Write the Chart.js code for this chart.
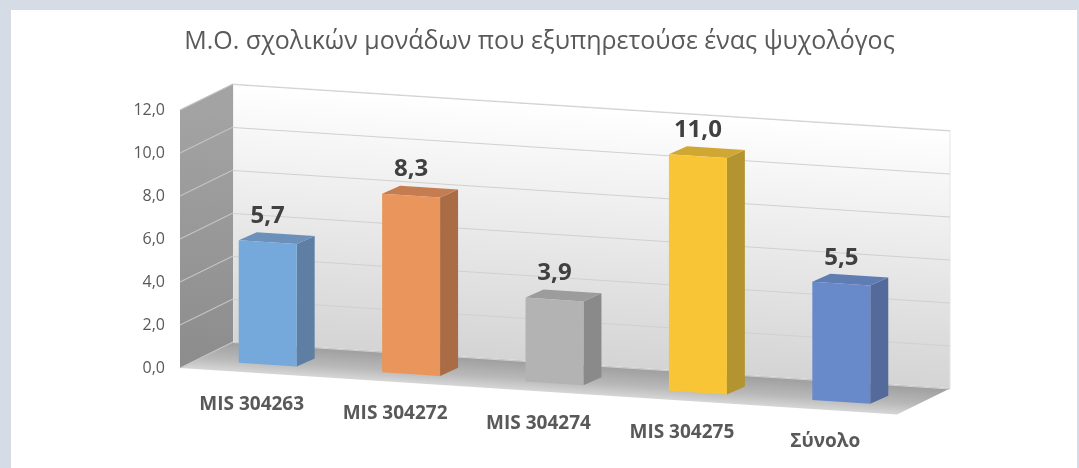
<!DOCTYPE html>
<html>
<head>
<meta charset="utf-8">
<script src="https://cdn.jsdelivr.net/npm/chart.js@4.4.0/dist/chart.umd.min.js"></script>
<style>
  html, body { margin: 0; padding: 0; background: #d6dce5; }
  canvas { display: block; }
</style>
</head>
<body>
<canvas id="myChart" width="1079" height="468"></canvas>
<script>
// data
const categories = ['MIS 304263', 'MIS 304272', 'MIS 304274', 'MIS 304275', 'Σύνολο'];
const values = [5.7, 8.3, 3.9, 11.0, 5.5];
const yMin = 0, yMax = 12, yStep = 2;
const chartTitle = 'Μ.Ο. σχολικών μονάδων που εξυπηρετούσε ένας ψυχολόγος';

// colours per bar: front, side, top
const frontColors = ['#75a9db', '#e9955b', '#b3b3b3', '#f7c535', '#6889ca'];
const sideColors = ['#5e7fa3', '#a96c45', '#8a8a8a', '#b39431', '#546a9b'];
const topColors = ['#6b90ba', '#c47c50', '#9c9c9c', '#d0a733', '#5f7db3'];

const FONT = '"Open Sans", "Noto Sans", sans-serif';
const SLOPE = 0.065;              // slope of the floor / gridlines
const DEPTH = { x: 53, y: -29.5 }; // floor depth (in skewed space)
const BAR_FRONT = { x: 16, y: -9 };
const BAR_DEPTH = { x: 18, y: -9.2 };

function fmt(v) {
    return v.toFixed(1).replace('.', ',');
}

// skew transform: everything in the plot leans down to the right
function skew(ctx, x0) {
    ctx.transform(1, SLOPE, 0, 1, 0, -SLOPE * x0);
}

function poly(ctx, pts, fill) {
    ctx.beginPath();
    ctx.moveTo(pts[0][0], pts[0][1]);
    for (let i = 1; i < pts.length; i++) ctx.lineTo(pts[i][0], pts[i][1]);
    ctx.closePath();
    ctx.fillStyle = fill;
    ctx.fill();
}

const framePlugin = {
    id: 'frame',
    beforeDraw(chart) {
        const ctx = chart.ctx;
        ctx.save();
        ctx.fillStyle = '#d6dce5';
        ctx.fillRect(0, 0, chart.width, chart.height);
        ctx.fillStyle = '#ffffff';
        ctx.fillRect(11, 10, 1066, chart.height - 10);
        ctx.restore();
    }
};

const box3dPlugin = {
    id: 'box3d',
    beforeDatasetsDraw(chart) {
        const ctx = chart.ctx;
        const area = chart.chartArea;
        const yScale = chart.scales.y;
        const x0 = area.left;
        const top = area.top, bottom = area.bottom;

        ctx.save();
        skew(ctx, x0);

        // back wall
        let g = ctx.createLinearGradient(0, top + DEPTH.y, 0, bottom + DEPTH.y);
        g.addColorStop(0, '#ffffff');
        g.addColorStop(1, '#d4d4d4');
        ctx.fillStyle = g;
        ctx.fillRect(x0 + DEPTH.x, top + DEPTH.y, area.right - x0, bottom - top);
        ctx.strokeStyle = '#e6e6e6';
        ctx.lineWidth = 1;
        ctx.strokeRect(x0 + DEPTH.x, top + DEPTH.y, area.right - x0, bottom - top);

        // left wall
        g = ctx.createLinearGradient(0, top, 0, bottom);
        g.addColorStop(0, '#a3a3a3');
        g.addColorStop(1, '#8c8c8c');
        poly(ctx, [[x0, bottom], [x0, top], [x0 + DEPTH.x, top + DEPTH.y], [x0 + DEPTH.x, bottom + DEPTH.y]], g);

        // floor
        g = ctx.createLinearGradient(0, bottom + DEPTH.y, 0, bottom);
        g.addColorStop(0, '#9e9e9e');
        g.addColorStop(0.6, '#b8b8b8');
        g.addColorStop(1, '#d6d6d6');
        poly(ctx, [[x0, bottom], [x0 + DEPTH.x, bottom + DEPTH.y], [area.right + DEPTH.x, bottom + DEPTH.y], [area.right, bottom]], g);

        // gridlines
        for (let v = yMin; v <= yMax; v += yStep) {
            const y = yScale.getPixelForValue(v);
            ctx.beginPath();
            ctx.moveTo(x0 + DEPTH.x, y + DEPTH.y + 0.5);
            ctx.lineTo(area.right + DEPTH.x, y + DEPTH.y + 0.5);
            ctx.strokeStyle = '#d0d0d0';
            ctx.stroke();
            ctx.beginPath();
            ctx.moveTo(x0, y);
            ctx.lineTo(x0 + DEPTH.x, y + DEPTH.y);
            ctx.strokeStyle = '#c4c4c4';
            ctx.stroke();
        }

        // bar side and top faces
        const meta = chart.getDatasetMeta(0);
        ctx.translate(BAR_FRONT.x, BAR_FRONT.y);
        meta.data.forEach((el, i) => {
            const xl = el.x - el.width / 2, xr = el.x + el.width / 2;
            poly(ctx, [[xr, el.y], [xr + BAR_DEPTH.x, el.y + BAR_DEPTH.y], [xr + BAR_DEPTH.x, el.base + BAR_DEPTH.y], [xr, el.base]], sideColors[i]);
            poly(ctx, [[xl, el.y], [xl + BAR_DEPTH.x, el.y + BAR_DEPTH.y], [xr + BAR_DEPTH.x, el.y + BAR_DEPTH.y], [xr, el.y]], topColors[i]);
        });
        ctx.restore();

        // front faces get drawn by chart.js under the same transform
        ctx.save();
        skew(ctx, x0);
        ctx.translate(BAR_FRONT.x, BAR_FRONT.y);
    },
    afterDatasetsDraw(chart) {
        const ctx = chart.ctx;
        ctx.restore();

        const area = chart.chartArea;
        const x0 = area.left;
        const meta = chart.getDatasetMeta(0);
        const xScale = chart.scales.x;

        ctx.save();
        ctx.textAlign = 'center';
        ctx.textBaseline = 'middle';

        // value labels
        ctx.font = 'bold 24px ' + FONT;
        ctx.fillStyle = '#404040';
        meta.data.forEach((el, i) => {
            const x = el.x + BAR_FRONT.x;
            const y = el.y + BAR_FRONT.y + SLOPE * (x - x0) - 26;
            ctx.fillText(fmt(values[i]), x, y);
        });

        // category labels
        ctx.font = 'bold 19px ' + FONT;
        ctx.fillStyle = '#595959';
        categories.forEach((c, i) => {
            const x = xScale.getPixelForValue(i);
            const y = area.bottom + SLOPE * (x - x0) + 32;
            ctx.fillText(c, x, y);
        });
        ctx.restore();
    }
};

const titleSize = 25;

new Chart(document.getElementById('myChart'), {
    type: 'bar',
    data: {
        labels: categories,
        datasets: [{
            data: values,
            backgroundColor: frontColors,
            borderWidth: 0,
            barPercentage: 0.404,
            categoryPercentage: 1,
            clip: false
        }]
    },
    options: {
        responsive: false,
        animation: false,
        devicePixelRatio: 1,
        layout: { padding: { left: 0, right: 0, top: 0, bottom: 100 } },
        plugins: {
            legend: { display: false },
            tooltip: { enabled: false },
            title: {
                display: true,
                text: chartTitle,
                color: '#595959',
                font: { family: FONT, size: titleSize, weight: 'normal', lineHeight: 1.2 },
                padding: { top: 42 - titleSize * 0.6, bottom: 110 - 42 - titleSize * 0.6 }
            }
        },
        scales: {
            x: { display: false },
            y: {
                min: yMin,
                max: yMax,
                grid: { display: false, drawTicks: false },
                border: { display: false },
                ticks: {
                    stepSize: yStep,
                    padding: 15,
                    color: '#595959',
                    font: { family: FONT, size: 16 },
                    callback: (v) => fmt(v)
                },
                afterFit: (scale) => { scale.width = 180; }
            },
            // empty right axis, only reserves the space right of the floor
            yRight: {
                position: 'right',
                grid: { display: false, drawTicks: false },
                border: { display: false },
                ticks: { display: false },
                afterFit: (scale) => { scale.width = 182; }
            }
        }
    },
    plugins: [framePlugin, box3dPlugin]
});
</script>
</body>
</html>
